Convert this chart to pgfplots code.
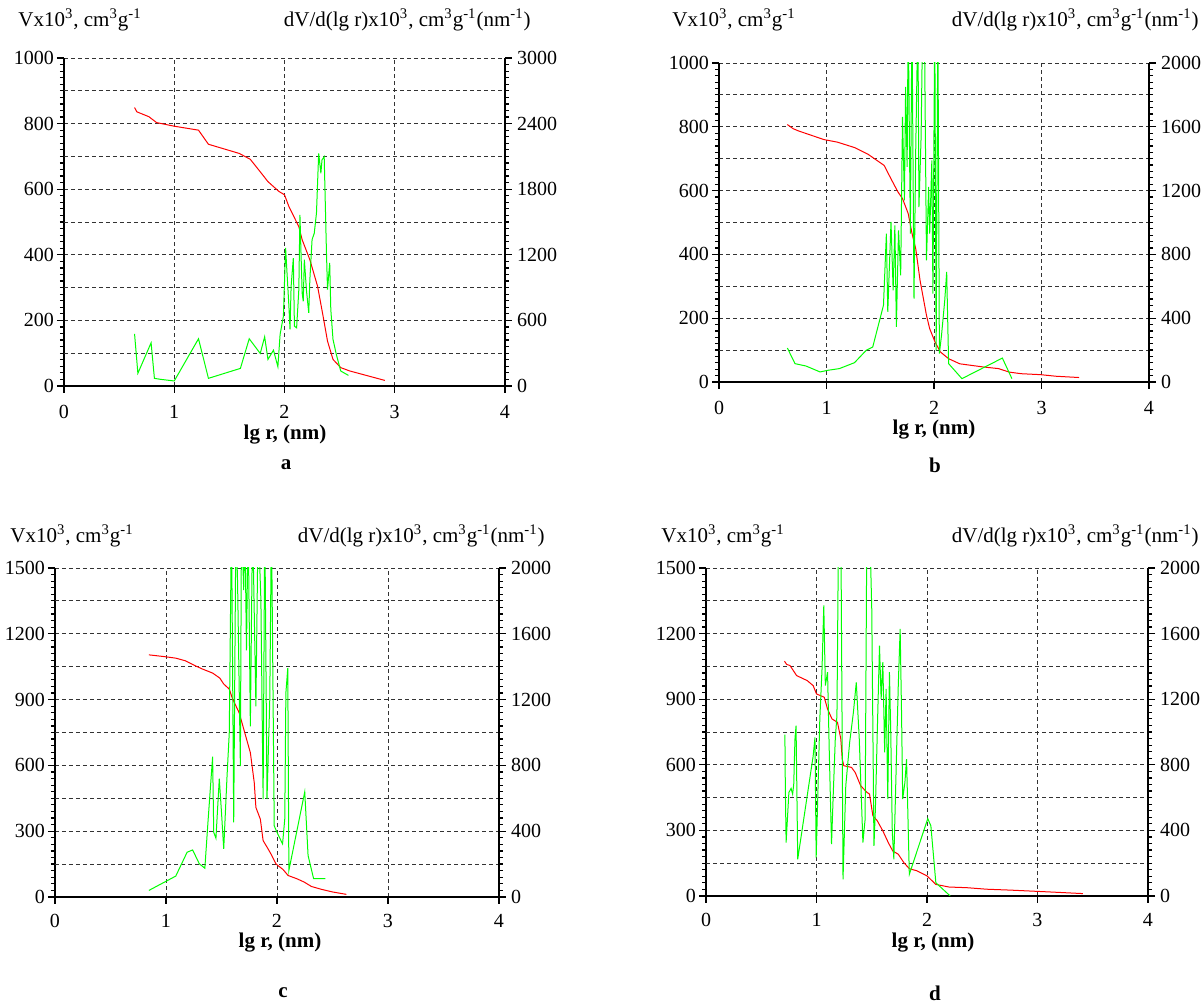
\documentclass[border=0pt]{standalone}
\usepackage{fontspec}
\setmainfont{Liberation Serif}
\usepackage{pgfplots}
\pgfplotsset{compat=1.18}
\definecolor{lred}{RGB}{255,0,0}
\definecolor{lgreen}{RGB}{0,255,0}
\pgfplotsset{
  base/.style={scale only axis, xmin=0, xmax=4, ymin=0,
    tick align=outside,
    /pgf/number format/assume math mode=true,
    /pgf/number format/1000 sep={},
    tick label style={font=\fontsize{10}{12}\selectfont},
    major tick length=3.5pt, minor tick length=2pt,
    every tick/.style={black, line width=0.6pt},
    axis line style={black, line width=1.3pt},
    minor y tick num=9, clip=true},
  leftax/.style={base, axis y line*=left, axis x line*=bottom,
    xtick={0,1,2,3,4},
    xmajorgrids, ymajorgrids,
    grid style={black!80, dash pattern=on 2pt off 1.5pt, line width=0.45pt},
    extra y tick style={grid=major, major tick length=0pt, yticklabel=\empty},
    yticklabel style={xshift=2pt},
    xticklabel style={yshift=-2.5pt}},
  leftaxlow/.style={leftax, xticklabel style={yshift=1pt}},
  rightax/.style={base, axis y line*=right, axis x line=none,
    yticklabel style={xshift=-1pt}},
  redl/.style={lred, line width=0.5pt, mark=none},
  greenl/.style={lgreen, line width=0.5pt, mark=none},
}
\begin{document}
\begin{tikzpicture}
\useasboundingbox (0,0) rectangle (600.5pt,503.5pt);
% ---------------- panel a ----------------
\begin{axis}[leftax, at={(32pt,310.5pt)}, width=220.5pt, height=164pt,
  ymax=1000, ytick={0,200,...,1000}, extra y ticks={100,300,500,700,900}]
\addplot[redl] coordinates {
(0.64,849)(0.66,836)(0.77,821)(0.84,803)(1.00,792)(1.22,780)(1.31,737)(1.59,709)
(1.69,691)(1.78,653)(1.85,623)(1.95,593)(2.00,583)(2.04,547)(2.13,486)(2.16,446)
(2.23,385)(2.30,304)(2.35,213)(2.39,137)(2.44,81)(2.51,56)(2.59,46)(2.91,17)};
\end{axis}
\begin{axis}[rightax, at={(32pt,310.5pt)}, width=220.5pt, height=164pt,
  ymax=3000, ytick={0,600,...,3000}]
\addplot[greenl] coordinates {
(0.64,477)(0.67,116)(0.79,395)(0.82,70)(0.875,61)(1.00,46)(1.22,432)(1.31,70)
(1.60,161)(1.68,432)(1.78,298)(1.82,450)(1.85,243)(1.90,328)(1.94,176)(1.96,471)
(1.99,638)(2.01,1262)(2.04,730)(2.05,517)(2.06,912)(2.08,1170)(2.09,547)(2.11,532)
(2.13,882)(2.14,1566)(2.16,851)(2.17,775)(2.18,1155)(2.20,866)(2.22,669)(2.23,973)
(2.25,1338)(2.27,1398)(2.29,1581)(2.31,2128)(2.33,1946)(2.34,2067)(2.36,2098)
(2.38,1246)(2.39,882)(2.41,1125)(2.42,699)(2.44,426)(2.47,289)(2.51,137)(2.58,97)};
\end{axis}
% ---------------- panel b ----------------
\begin{axis}[leftax, at={(359.5pt,312.5pt)}, width=215pt, height=159.5pt,
  ymax=1000, ytick={0,200,...,1000}, extra y ticks={100,300,500,700,900}]
\addplot[redl] coordinates {
(0.636,807)(0.69,794)(0.74,787)(0.975,760)(1.10,752)(1.26,735)(1.386,714)(1.536,679)
(1.60,637)(1.664,596)(1.707,575)(1.76,528)(1.796,465)(1.83,418)(1.87,319)(1.93,209)
(1.96,167)(2.01,125)(2.06,94)(2.136,73)(2.24,57)(2.46,47)(2.60,42)(2.70,31)
(2.81,26)(2.99,23)(3.136,18)(3.35,14)};
\end{axis}
\begin{axis}[rightax, at={(359.5pt,312.5pt)}, width=215pt, height=159.5pt,
  ymax=2000, ytick={0,400,...,2000}]
\addplot[greenl] coordinates {
(0.636,213)(0.707,115)(0.81,100)(0.94,63)(1.01,73)(1.12,84)(1.26,121)(1.37,199)
(1.43,219)(1.53,481)(1.557,930)(1.57,439)(1.60,1003)(1.62,575)(1.636,982)(1.65,345)
(1.67,951)(1.69,669)(1.707,1662)(1.725,1139)(1.736,1850)(1.75,1348)(1.76,2300)
(1.78,930)(1.795,2300)(1.814,522)(1.83,1453)(1.85,2300)(1.86,1097)(1.88,1536)
(1.895,2300)(1.91,2300)(1.93,763)(1.95,1223)(1.96,930)(1.98,1390)(1.99,554)
(2.007,2300)(2.02,199)(2.036,2300)(2.05,178)(2.07,293)(2.10,512)(2.118,690)
(2.136,115)(2.26,21)(2.636,150)(2.725,21)};
\end{axis}
% ---------------- panel c ----------------
\begin{axis}[leftaxlow, at={(27.5pt,55pt)}, width=222pt, height=164.5pt,
  ymax=1500, ytick={0,300,...,1500}, extra y ticks={150,450,750,1050,1350}]
\addplot[redl] coordinates {
(0.846,1104)(0.984,1096)(1.088,1089)(1.174,1077)(1.26,1055)(1.33,1039)(1.42,1021)
(1.485,998)(1.52,971)(1.57,948)(1.60,903)(1.66,839)(1.71,748)(1.76,658)(1.795,522)
(1.81,408)(1.85,355)(1.875,257)(1.92,219)(1.95,192)(1.99,151)(2.055,125)(2.10,98)
(2.18,83)(2.245,68)(2.31,48)(2.40,35)(2.50,23)(2.625,12)};
\end{axis}
\begin{axis}[rightax, at={(27.5pt,55pt)}, width=222pt, height=164.5pt,
  ymax=2000, ytick={0,400,...,2000}]
\addplot[greenl] coordinates {
(0.846,40)(1.088,127)(1.19,272)(1.24,286)(1.30,202)(1.35,175)(1.38,474)(1.42,853)
(1.43,393)(1.45,357)(1.48,720)(1.50,514)(1.52,292)(1.55,736)(1.57,998)(1.59,2300)
(1.61,454)(1.63,2300)(1.645,1905)(1.67,796)(1.68,2300)(1.70,1865)(1.71,2300)
(1.725,1500)(1.74,2300)(1.76,1038)(1.78,2300)(1.81,1159)(1.83,2300)(1.855,1804)
(1.875,595)(1.89,2300)(1.91,595)(1.935,1200)(1.95,2300)(1.975,433)(2.00,393)
(2.05,323)(2.07,474)(2.08,1240)(2.097,1391)(2.107,161)(2.25,639)(2.28,252)
(2.33,111)(2.435,111)};
\end{axis}
% ---------------- panel d ----------------
\begin{axis}[leftaxlow, at={(353pt,55.5pt)}, width=221pt, height=164pt,
  ymax=1500, ytick={0,300,...,1500}, extra y ticks={150,450,750,1050,1350}]
\addplot[redl] coordinates {
(0.71,1074)(0.73,1059)(0.76,1054)(0.82,1008)(0.916,985)(0.97,962)(1.00,924)
(1.07,909)(1.10,855)(1.14,810)(1.19,794)(1.22,718)(1.233,626)(1.247,596)(1.317,588)
(1.35,565)(1.40,504)(1.456,474)(1.48,466)(1.51,367)(1.55,344)(1.60,298)(1.65,244)
(1.69,206)(1.74,191)(1.79,153)(1.84,125)(1.91,115)(2.00,92)(2.08,53)(2.20,41)
(2.36,38)(2.54,31)(2.75,27)(2.92,23)(3.13,18)(3.41,11)};
\end{axis}
\begin{axis}[rightax, at={(353pt,55.5pt)}, width=221pt, height=164pt,
  ymax=2000, ytick={0,400,...,2000}]
\addplot[greenl] coordinates {
(0.714,984)(0.718,652)(0.725,326)(0.75,631)(0.77,656)(0.784,621)(0.794,682)
(0.805,957)(0.815,1039)(0.83,224)(0.97,855)(0.986,967)(0.997,234)(1.015,692)
(1.03,1079)(1.05,1385)(1.066,1772)(1.08,1283)(1.10,1365)(1.115,896)(1.136,316)
(1.15,591)(1.17,957)(1.185,1100)(1.20,2300)(1.22,2300)(1.24,102)(1.265,672)
(1.30,937)(1.334,1120)(1.36,1303)(1.387,957)(1.42,326)(1.44,468)(1.456,2300)
(1.48,2300)(1.50,1752)(1.52,305)(1.533,530)(1.55,998)(1.57,1527)(1.585,1202)
(1.60,1426)(1.617,876)(1.63,1263)(1.645,591)(1.66,1365)(1.672,998)(1.686,387)
(1.70,224)(1.72,754)(1.74,1283)(1.757,1629)(1.77,1100)(1.78,591)(1.80,692)
(1.815,835)(1.84,132)(2.007,472)(2.035,428)(2.08,81)(2.21,0)};
\end{axis}
% ---------------- texts ----------------
\begin{scope}[yshift=503.5pt, x=0.5pt, y=-0.5pt, every node/.style={inner sep=0pt, font=\fontsize{10.5}{12}\selectfont}]
\node[anchor=west] at (18,20) {Vx10\textsuperscript{3}, cm\textsuperscript{3}g\textsuperscript{-1}};
\node[anchor=east] at (531,20) {dV/d(lg r)x10\textsuperscript{3}, cm\textsuperscript{3}g\textsuperscript{-1}(nm\textsuperscript{-1})};
\node at (285,435) {\bfseries lg r, (nm)};
\node at (286,465) {\bfseries a};
\node[anchor=west] at (672,20) {Vx10\textsuperscript{3}, cm\textsuperscript{3}g\textsuperscript{-1}};
\node[anchor=east] at (1199,20) {dV/d(lg r)x10\textsuperscript{3}, cm\textsuperscript{3}g\textsuperscript{-1}(nm\textsuperscript{-1})};
\node at (934,430) {\bfseries lg r, (nm)};
\node at (935,465) {\bfseries b};
\node[anchor=west] at (10,536) {Vx10\textsuperscript{3}, cm\textsuperscript{3}g\textsuperscript{-1}};
\node[anchor=east] at (545,536) {dV/d(lg r)x10\textsuperscript{3}, cm\textsuperscript{3}g\textsuperscript{-1}(nm\textsuperscript{-1})};
\node at (280,943) {\bfseries lg r, (nm)};
\node at (283,993) {\bfseries c};
\node[anchor=west] at (661,536) {Vx10\textsuperscript{3}, cm\textsuperscript{3}g\textsuperscript{-1}};
\node[anchor=east] at (1199,536) {dV/d(lg r)x10\textsuperscript{3}, cm\textsuperscript{3}g\textsuperscript{-1}(nm\textsuperscript{-1})};
\node at (933,943) {\bfseries lg r, (nm)};
\node at (935,993) {\bfseries d};
\end{scope}
\end{tikzpicture}
\end{document}
